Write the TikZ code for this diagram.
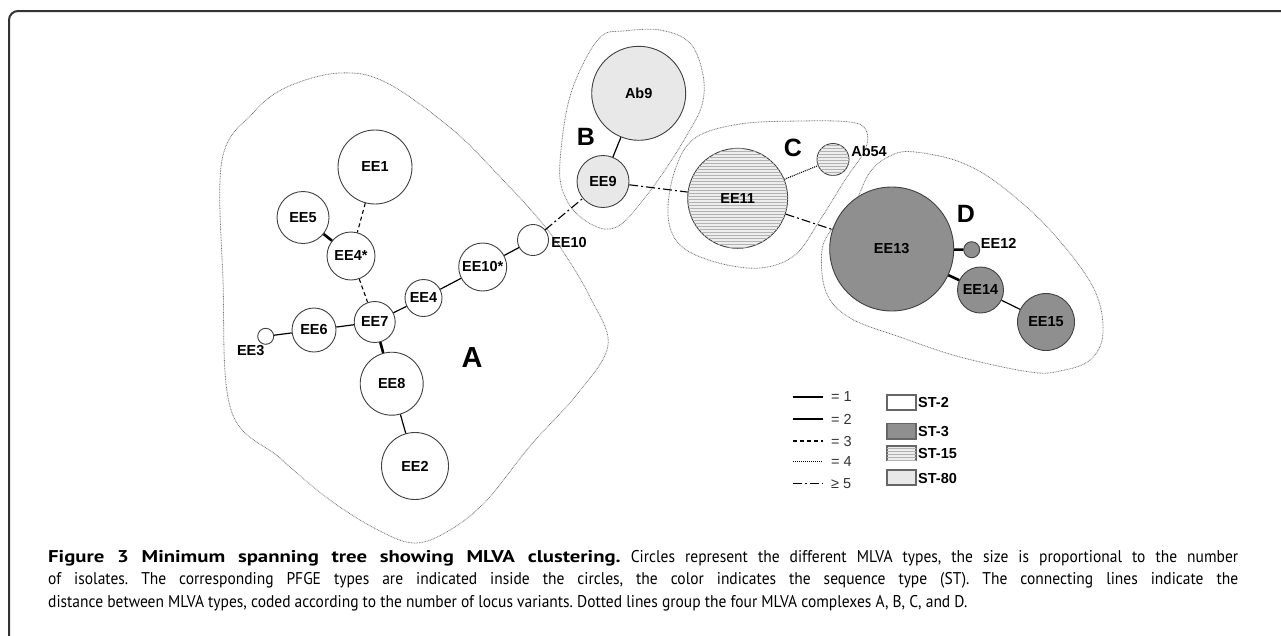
\documentclass[tikz,border=0pt]{standalone}
\usepackage{fontspec}
\setmainfont{Liberation Sans}
\newfontfamily\capfont[FakeStretch=0.912, BoldFeatures={FakeStretch=1.22}]{PT Sans}
\usetikzlibrary{patterns}
\tikzset{
  mst/.style={circle, draw=black!75, line width=0.9pt, inner sep=0pt, font=\bfseries\fontsize{14.5}{16}\selectfont},
  st2/.style={mst, fill=white},
  st3/.style={mst, fill=black!44},
  st15/.style={mst, fill=black!7, postaction={pattern=horizontal lines, pattern color=black!30}},
  st80/.style={mst, fill=black!9},
  outlbl/.style={font=\bfseries\fontsize{14.5}{16}\selectfont, inner sep=0pt},
  d1/.style={line width=2.6pt},
  d2/.style={line width=1.2pt},
  d3/.style={line width=1.1pt, dash pattern=on 4pt off 3pt},
  d4/.style={line width=1.1pt, dash pattern=on 1pt off 1pt},
  d5/.style={line width=1.1pt, dash pattern=on 9pt off 3pt on 2pt off 3pt},
  grp/.style={draw=black!55, line width=0.8pt, dash pattern=on 0.8pt off 0.8pt},
  cl/.style={font=\bfseries\fontsize{25}{28}\selectfont, inner sep=0pt},
  legt/.style={font=\fontsize{14.5}{16}\selectfont, text=black!80, anchor=west, inner sep=0pt},
  legb/.style={font=\bfseries\fontsize{14.5}{16}\selectfont, anchor=west, inner sep=0pt},
  legbox/.style={draw=black!60, line width=1.2pt}
}
\begin{document}
\frenchspacing
\begin{tikzpicture}[x=1pt,y=-1pt]
\useasboundingbox (0,0) rectangle (1281,635);
% frame
\draw[line width=2pt, black!80, rounded corners=9pt] (9,640) -- (9,11) -- (1290,11);

% group outlines
\draw[grp] plot[smooth cycle, tension=0.6] coordinates {(222,160) (253,113) (287,87) (340,73) (387,83) (453,130) (503,180) (537,217) (562,250) (590,297) (608,345) (578,393) (530,446) (487,500) (450,530) (415,543) (378,530) (330,500) (280,458) (231,410) (223,280)};
\draw[grp] plot[smooth cycle, tension=0.6] coordinates {(623,31) (660,30) (690,43) (703,75) (702,105) (687,135) (665,170) (643,200) (620,225) (600,228) (575,212) (561,185) (561,150) (569,100) (585,60) (603,35)};
\draw[grp] plot[smooth cycle, tension=0.6] coordinates {(668,215) (675,170) (695,138) (740,124) (800,121) (850,122) (866,130) (865,150) (845,180) (820,220) (795,255) (760,268) (715,262) (680,245)};
\draw[grp] plot[smooth cycle, tension=0.6] coordinates {(853,207) (870,172) (892,155) (915,152) (960,162) (1000,185) (1050,230) (1093,287) (1103,333) (1090,360) (1060,371) (1030,372) (960,357) (900,337) (850,318) (826,292) (822,250) (835,225)};

% nodes
\node[st2, minimum size=74pt] (ee1) at (375,167) {EE1};
\node[st2, minimum size=52pt] (ee5) at (303,217.5) {EE5};
\node[st2, minimum size=48pt] (ee4s) at (351,256) {EE4*};
\node[st2, minimum size=48pt] (ee10s) at (482.7,267) {EE10*};
\node[st2, minimum size=31pt, label={[outlbl, xshift=36pt, yshift=-2.5pt]center:EE10}] (ee10) at (533,240) {};
\node[st2, minimum size=37pt] (ee4) at (423.5,298) {EE4};
\node[st2, minimum size=41pt] (ee7) at (374.7,322) {EE7};
\node[st2, minimum size=44pt] (ee6) at (314,330) {EE6};
\node[st2, minimum size=16pt, label={[outlbl, xshift=-15pt, yshift=-14pt]center:EE3}] (ee3) at (265.7,336.3) {};
\node[st2, minimum size=63pt] (ee8) at (391.7,383.7) {EE8};
\node[st2, minimum size=67pt] (ee2) at (415,466) {EE2};
\node[st80, minimum size=94pt] (ab9) at (638.7,93.3) {Ab9};
\node[st80, minimum size=52pt] (ee9) at (603,181.5) {EE9};
\node[st15, minimum size=100pt] (ee11) at (737.7,198.3) {EE11};
\node[st15, minimum size=32pt, label={[outlbl, xshift=36pt, yshift=8.5pt]center:Ab54}] (ab54) at (833,159.5) {};
\node[st3, minimum size=124pt] (ee13) at (891.7,249) {EE13};
\node[st3, minimum size=16pt, label={[outlbl, xshift=27pt, yshift=6.5pt]center:EE12}] (ee12) at (971.7,249.7) {};
\node[st3, minimum size=46pt] (ee14) at (980.5,290) {EE14};
\node[st3, minimum size=57pt] (ee15) at (1046,322) {EE15};

% cluster letters
\node[cl, font=\bfseries\fontsize{29}{32}\selectfont] (la) at (472,358) {A};
\node[cl] (lb) at (586,137) {B};
\node[cl] (lc) at (793,148) {C};
\node[cl] (ld) at (966,214) {D};

% edges
\draw[d3] (ee1) -- (ee4s);
\draw[d1] (ee5) -- (ee4s);
\draw[d3] (ee4s) -- (ee7);
\draw[d2] (ee7) -- (ee4);
\draw[d2] (ee4) -- (ee10s);
\draw[d2] (ee10s) -- (ee10);
\draw[d5] (ee10) -- (ee9);
\draw[d2] (ee6) -- (ee7);
\draw[d2] (ee3) -- (ee6);
\draw[d1] (ee7) -- (ee8);
\draw[d2] (ee8) -- (ee2);
\draw[d2] (ee9) -- (ab9);
\draw[d5] (ee9) -- (ee11);
\draw[d4] (ee11) -- (ab54);
\draw[d5] (ee11) -- (ee13);
\draw[d1] (ee13) -- (ee12);
\draw[d1] (ee13) -- (ee14);
\draw[d2] (ee14) -- (ee15);

% legend: lines
\draw[d1] (793,397) -- (823,397);
\draw[d2] (793,419) -- (823,419);
\draw[d3] (793,441) -- (823,441);
\draw[d4, line width=0.9pt] (793,461.5) -- (823,461.5);
\draw[d5] (793,483.5) -- (823,483.5);
\node[legt] (l1) at (831,397) {= 1};
\node[legt] (l2) at (831,419) {= 2};
\node[legt] (l3) at (831,441) {= 3};
\node[legt] (l4) at (831,461.5) {= 4};
\node[legt] (l5) at (831,483.5) {≥ 5};
% legend: boxes
\draw[legbox, fill=white] (887,395) rectangle (916,410);
\draw[legbox, fill=black!44] (887,423.5) rectangle (916,439);
\draw[legbox, fill=black!7, postaction={pattern=horizontal lines, pattern color=black!30}] (887,446) rectangle (916,460.5);
\draw[legbox, fill=black!9] (887,470) rectangle (916,485);
\node[legb] (s2) at (918,403) {ST-2};
\node[legb] (s3) at (918,432) {ST-3};
\node[legb] (s15) at (918,453.5) {ST-15};
\node[legb] (s80) at (918,478) {ST-80};

% caption
\node[anchor=north west, text width=1190pt, align=justify, inner sep=0pt, font=\capfont\fontsize{17}{22.5}\selectfont] (cap) at (48,550) {\textbf{Figure 3 Minimum spanning tree showing MLVA clustering.} Circles represent the different MLVA types, the size is proportional to the number\linebreak of isolates. The corresponding PFGE types are indicated inside the circles, the color indicates the sequence type (ST). The connecting lines indicate the\linebreak distance between MLVA types, coded according to the number of locus variants. Dotted lines group the four MLVA complexes A, B, C, and D.};
\end{tikzpicture}
\end{document}
